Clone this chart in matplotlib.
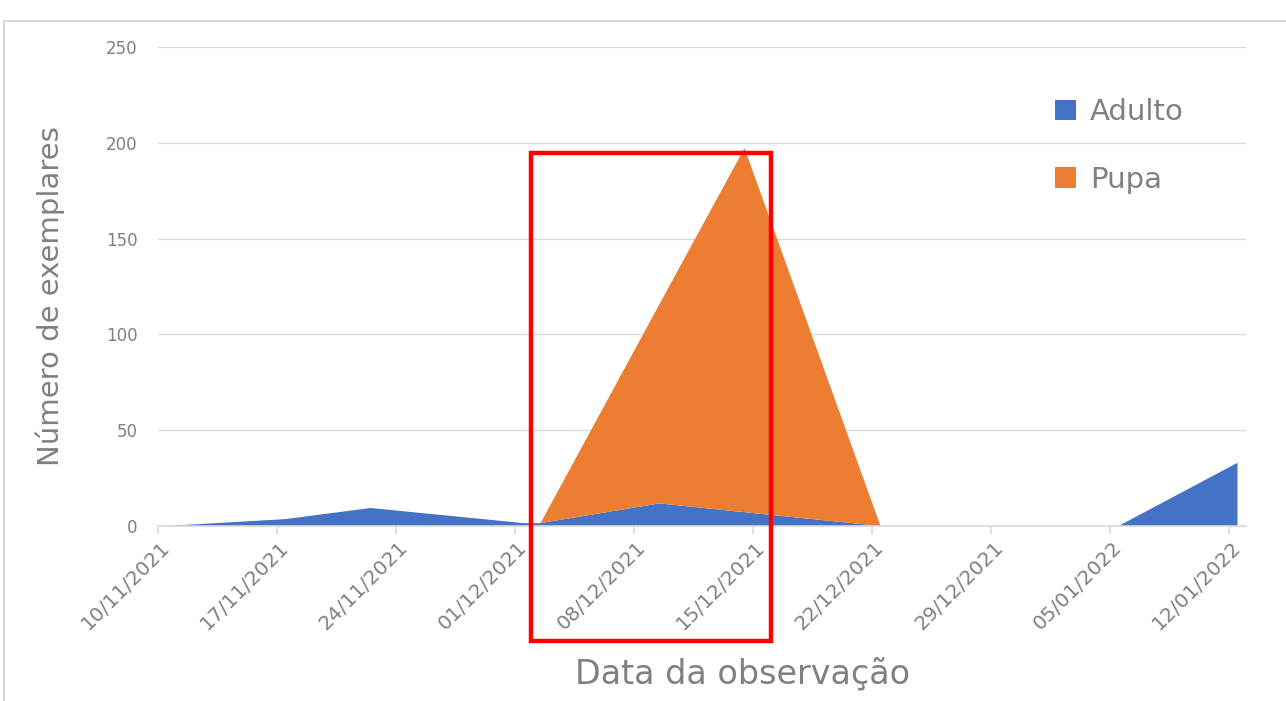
import matplotlib
matplotlib.use("Agg")
import matplotlib.pyplot as plt
import matplotlib.transforms as mtransforms
from matplotlib.patches import Rectangle
from matplotlib.lines import Line2D
import numpy as np
from datetime import date

# ---- data ----
obs_dates = ["10/11/2021", "17/11/2021", "22/11/2021", "01/12/2021", "02/12/2021",
             "09/12/2021", "14/12/2021", "22/12/2021", "29/12/2021", "05/01/2022",
             "12/01/2022"]
adulto = [0, 3.6, 9.4, 1.5, 1.5, 11.8, 7.2, 0, 0, 0, 33]
pupa = [0, 0, 0, 0, 0, 104, 190, 0, 0, 0, 0]
tick_labels = ["10/11/2021", "17/11/2021", "24/11/2021", "01/12/2021", "08/12/2021",
               "15/12/2021", "22/12/2021", "29/12/2021", "05/01/2022", "12/01/2022"]
series_names = ["Adulto", "Pupa"]
colors = ["#4472C4", "#ED7D31"]

def to_day(s):
    d, m, y = map(int, s.split("/"))
    return (date(y, m, d) - date(2021, 11, 10)).days

# Excel date axis: each point sits in the middle of its day slot
x = np.array([to_day(s) for s in obs_dates]) + 0.5
ticks = [to_day(s) for s in tick_labels]

fig = plt.figure(figsize=(12.86, 7.01), dpi=100)
ax = fig.add_axes([158/1286, 1-526/701, (1246-158)/1286, (526-47)/701])

ax.stackplot(x, adulto, pupa, colors=colors, labels=series_names, linewidth=0, zorder=2)

ax.set_xlim(0, 64)
ax.set_ylim(0, 250)
ax.set_yticks([0, 50, 100, 150, 200, 250])
ax.set_xticks(ticks)
ax.set_xticklabels(tick_labels)

grey = "#808080"
gridc = "#d9d9d9"
ax.grid(axis="y", color=gridc, linewidth=1.0, zorder=0)
ax.set_axisbelow(True)
for s in ["top", "right", "left"]:
    ax.spines[s].set_visible(False)
ax.spines["bottom"].set_color(gridc)
ax.spines["bottom"].set_linewidth(1.2)
ax.tick_params(axis="y", length=0, pad=14.5, labelsize=12, labelcolor=grey)
ax.tick_params(axis="x", length=6, width=1.2, color=gridc, direction="out",
               labelsize=14.5, labelcolor=grey, pad=6)
for lab in ax.get_xticklabels():
    lab.set_rotation(45)
    lab.set_ha("right")
    lab.set_va("center")
    lab.set_rotation_mode("anchor")
    lab.set_transform(lab.get_transform() + mtransforms.ScaledTranslation(9/100, -2/100, fig.dpi_scale_trans))

ax.set_ylabel("Número de exemplares", fontsize=21, color=grey,
              family=["Liberation Sans Narrow", "DejaVu Sans"])
ax.yaxis.set_label_coords(-93/1088, 0.48)
fig.text(743/1286, 1-674/701, "Data da observação", fontsize=24, color=grey,
         ha="center", va="center", family=["DejaVu Sans"])

leg = ax.legend(loc="upper left", bbox_to_anchor=((1029-158)/1088, 1-(72-47)/479),
                frameon=False, handlelength=0.7,
                handleheight=0.7, handletextpad=0.5, labelspacing=1.35,
                prop={"family": ["DejaVu Sans"], "size": 21})
for t in leg.get_texts():
    t.set_color(grey)

# red highlight box (annotation)
ax.add_patch(Rectangle((21.94, -60), 14.12, 254.7, fill=False, edgecolor="#ff0000",
                       linewidth=3.2, clip_on=False, zorder=5))

# chart border (top and left)
fig.add_artist(Line2D([4/1286, 1], [1-21/701, 1-21/701], color=gridc, linewidth=1.5))
fig.add_artist(Line2D([4/1286, 4/1286], [0, 1-21/701], color=gridc, linewidth=1.5))

fig.savefig("out.png", dpi=100, facecolor="white")
